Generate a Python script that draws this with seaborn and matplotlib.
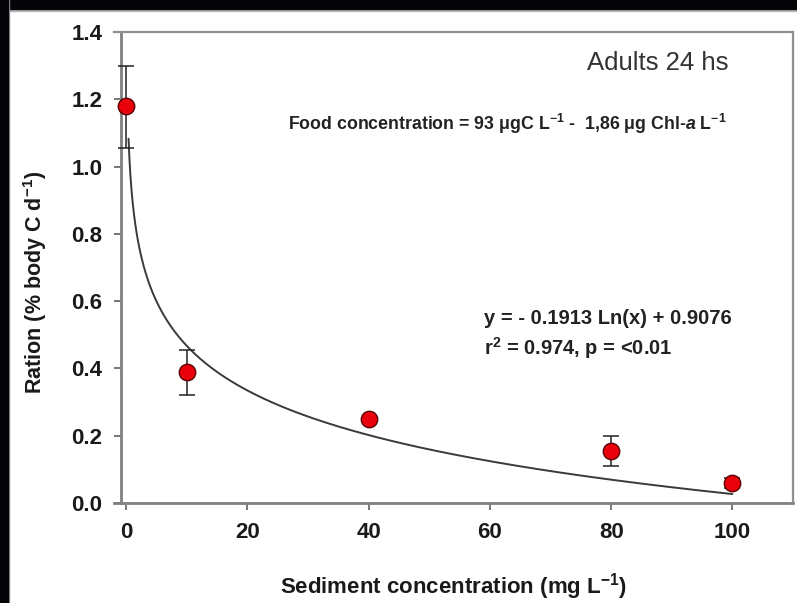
import numpy as np
import pandas as pd
import matplotlib
matplotlib.use("Agg")
import matplotlib.pyplot as plt
import seaborn as sns
from matplotlib.patches import Rectangle

# ---- data ----
sediment = [0, 10, 40, 80, 100]
ration = [1.18, 0.39, 0.25, 0.155, 0.06]
err_low = [0.125, 0.07, 0.0, 0.045, 0.015]
err_high = [0.12, 0.065, 0.0, 0.045, 0.015]
fit_slope = -0.1913
fit_intercept = 0.9076
fit_x_start = 0.4
fit_x_end = 100
x_ticks = [0, 20, 40, 60, 80, 100]
y_ticks = [0.0, 0.2, 0.4, 0.6, 0.8, 1.0, 1.2, 1.4]

sns.set_theme(style="white")
plt.rcParams['font.family'] = ['Liberation Sans', 'DejaVu Sans']
plt.rcParams['mathtext.fontset'] = 'custom'
plt.rcParams['mathtext.rm'] = 'Liberation Sans'
plt.rcParams['mathtext.bf'] = 'Liberation Sans:bold'
plt.rcParams['mathtext.it'] = 'Liberation Sans:italic'
plt.rcParams['mathtext.bfit'] = 'Liberation Sans:bold:italic'

W, H = 797, 603
fig = plt.figure(figsize=(W / 100, H / 100), dpi=100)
fig.patch.set_facecolor('white')
# black frame bands (top and left) with thin grey edge
fig.patches.append(Rectangle((0, 1 - 11 / H), 1, 2 / H, transform=fig.transFigure,
                             color='#b8b8bc', zorder=0))
fig.patches.append(Rectangle((0, 1 - 9 / H), 1, 9 / H, transform=fig.transFigure,
                             color='#050508', zorder=0))
fig.patches.append(Rectangle((8 / W, 0), 1.5 / W, 1, transform=fig.transFigure,
                             color='#9a9aa0', zorder=0))
fig.patches.append(Rectangle((0, 0), 8 / W, 1, transform=fig.transFigure,
                             color='#050508', zorder=0))

ax_l, ax_r, ax_t, ax_b = 114, 793, 32, 503
ax = fig.add_axes([ax_l / W, 1 - ax_b / H, (ax_r - ax_l) / W, (ax_b - ax_t) / H])

df = pd.DataFrame({'sediment': sediment, 'ration': ration})
xfit = np.geomspace(fit_x_start, fit_x_end, 400)
fit_df = pd.DataFrame({'x': xfit, 'y': fit_slope * np.log(xfit) + fit_intercept})

sns.lineplot(data=fit_df, x='x', y='y', ax=ax, color='#3a3a3a', lw=1.4, zorder=2)
ax.errorbar(sediment, ration, yerr=[err_low, err_high], fmt='none', ecolor='#222222',
            elinewidth=1.1, capsize=6, capthick=1.1, zorder=3)
sns.scatterplot(data=df, x='sediment', y='ration', ax=ax, s=140, color='#e8000b',
                edgecolor='#5a0000', linewidth=1.0, zorder=4)

ax.set_xlim(-2.0, 110)
ax.set_ylim(0, 1.4)
ax.set_xticks(x_ticks)
ax.set_yticks(y_ticks)
ax.set_xticklabels([str(v) for v in x_ticks])
ax.set_yticklabels([f"{v:.1f}" for v in y_ticks])

for s in ['left', 'bottom']:
    ax.spines[s].set_color('#808080')
    ax.spines[s].set_linewidth(2.0)
for s in ['top', 'right']:
    ax.spines[s].set_color('#909090')
    ax.spines[s].set_linewidth(1.6)
ax.spines['left'].set_position(('data', -0.9))

ax.tick_params(axis='both', which='major', direction='out', length=5, width=1.2,
               color='#606060', labelsize=16, labelcolor='#1a1a1a',
               left=True, bottom=True)
ax.tick_params(axis='x', pad=9)
ax.tick_params(axis='y', pad=8)
for lab in ax.get_xticklabels() + ax.get_yticklabels():
    lab.set_fontweight('bold')

ax.set_xlabel(r'Sediment concentration (mg L$^{\mathbf{-1}}$)', fontsize=16,
              fontweight='bold', color='#1a1a1a', labelpad=20)
ax.set_ylabel(r'Ration (% body C d$^{\mathbf{-1}}$)', fontsize=15.5,
              fontweight='bold', color='#1a1a1a', labelpad=14)
ax.yaxis.set_label_coords(-0.096, 0.468)

ax.text(0.905, 0.935, 'Adults 24 hs', transform=ax.transAxes, ha='right', va='center',
        fontsize=18.5, color='#333333')
ax.text(0.902, 0.805,
        r'Food concentration = 93 $\mathbf{\mu}$gC L$^{\mathbf{-1}}$ -  1,86 $\mathbf{\mu}$g Chl-$\boldsymbol{a}$ L$^{\mathbf{-1}}$',
        transform=ax.transAxes, ha='right', va='center', fontsize=12.8,
        fontweight='bold', color='#222222')
ax.text(0.545, 0.392, 'y = - 0.1913 Ln(x) + 0.9076', transform=ax.transAxes,
        ha='left', va='center', fontsize=14.5, fontweight='bold', color='#222222')
ax.text(0.545, 0.328, r'r$^{\mathbf{2}}$ = 0.974, p = <0.01', transform=ax.transAxes,
        ha='left', va='center', fontsize=14.5, fontweight='bold', color='#222222')

fig.savefig('out.png', dpi=100)
